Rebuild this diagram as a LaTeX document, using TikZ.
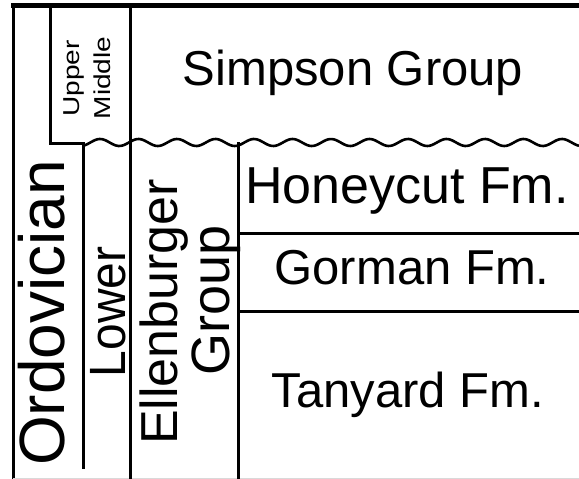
\documentclass[tikz,border=0pt]{standalone}
\usepackage{fontspec}
\usepackage{graphicx}
\setmainfont{Liberation Sans}
\begin{document}
\begin{tikzpicture}[x=1pt, y=-1pt,
  rule/.style={line width=3pt, line cap=rect},
  frame/.style={line width=4.5pt},
  bigtext/.style={inner sep=0pt, anchor=base, font=\fontsize{49}{49}\selectfont},
  sidetext/.style={inner sep=0pt, anchor=base, rotate=90}]
  % page area
  \useasboundingbox (0,0) rectangle (579,479);
  \fill[white] (0,0) rectangle (579,479);

  % outer frame: top and left edges
  \draw[frame] (11,5.5) -- (579,5.5);
  \draw[rule] (13,5) -- (13,479);
  \draw[gray!30, line width=1pt] (13,478.5) -- (579,478.5);

  % Upper/Middle box
  \draw[rule] (50,5) -- (50,143) -- (83,143);
  % column dividers
  \draw[rule] (130,5) -- (130,479);
  \draw[rule] (83,143) -- (83,467);
  \draw[rule] (238,143) -- (238,479);

  % unconformity below the Simpson Group (wavelength 38.5)
  \draw[line width=2.6pt, line join=round]
    plot[domain=83:579, samples=240, smooth] (\x, {142.5 - 3.5*cos(9.3506*(\x-100))});

  % formation boundaries
  \draw[rule] (238,233) -- (579,233);
  \draw[rule] (238,311) -- (579,311);

  % labels
  \node[bigtext] (simpson) at (353,85) {Simpson Group};
  \node[bigtext, font=\fontsize{52}{52}\selectfont] (honeycut) at (407,203) {Honeycut Fm.};
  \node[bigtext] (gorman) at (412,284) {Gorman Fm.};
  \node[bigtext] (tanyard) at (408,407) {Tanyard Fm.};

  \node[sidetext, font=\fontsize{64}{64}\selectfont] (ordovician) at (64,313) {Ordovician};
  \node[sidetext, font=\fontsize{51}{51}\selectfont] (lower) at (125,312) {\scalebox{0.94}[1]{Lower}};
  \node[sidetext, font=\fontsize{52}{52}\selectfont] (ellen) at (177,312) {Ellenburger};
  \node[sidetext, font=\fontsize{54}{54}\selectfont] (group) at (229,300) {Group};
  \node[sidetext, font=\fontsize{23}{23}\selectfont] (upper) at (79,78.5) {\scalebox{1.22}[1]{Upper}};
  \node[sidetext, font=\fontsize{23}{23}\selectfont] (middle) at (110,78) {\scalebox{1.22}[1]{Middle}};
\end{tikzpicture}
\end{document}
